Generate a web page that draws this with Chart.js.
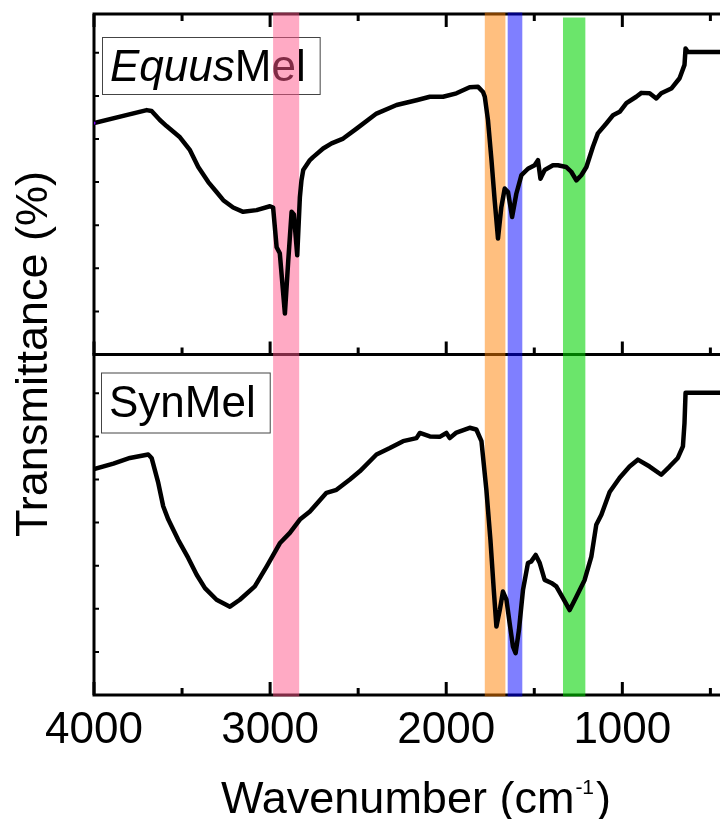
<!DOCTYPE html>
<html>
<head>
<meta charset="utf-8">
<script src="https://cdn.jsdelivr.net/npm/chart.js@4.4.1/dist/chart.umd.min.js"></script>
<style>
  html, body { margin: 0; padding: 0; background: #fff; overflow: hidden; }
  #frame { width: 720px; height: 819px; overflow: hidden; position: relative; }
  #wrap { width: 740px; height: 819px; position: absolute; left: 0; top: 0; }
</style>
</head>
<body>
<div id="frame"><div id="wrap"><canvas id="ftir"></canvas></div></div>
<script>
// FTIR spectra (wavenumber in cm-1, transmittance in arbitrary %)
const wnEquus = [4000, 3701, 3673, 3626, 3588, 3512, 3455, 3408, 3351, 3304, 3266, 3210, 3153, 3077, 3001,
  2983, 2963, 2945, 2916, 2897, 2878, 2865, 2846, 2831, 2822, 2812, 2774, 2756, 2699, 2651, 2585, 2509,
  2396, 2282, 2169, 2093, 2018, 1942, 1867, 1819, 1791, 1781, 1763, 1743, 1725, 1706, 1687, 1668, 1649,
  1626, 1602, 1573, 1536, 1498, 1479, 1465, 1441, 1394, 1366, 1318, 1290, 1261, 1233, 1204, 1167, 1139,
  1091, 1053, 1015, 977, 921, 892, 845, 807, 779, 722, 675, 647, 641, 628, 400];
const tEquus = [73.7, 76.7, 76.5, 74.4, 73.0, 70.4, 67.4, 63.5, 60.0, 57.7, 55.8, 54.1, 53.1, 53.5, 54.4,
  54.1, 44.9, 43.5, 29.5, 41.8, 53.1, 52.5, 43.0, 56.5, 60.4, 62.8, 65.1, 65.8, 67.8, 69.0, 70.1, 72.4,
  75.9, 77.9, 79.0, 79.8, 79.8, 80.6, 82.0, 82.1, 80.9, 79.8, 74.4, 65.1, 55.8, 46.9, 54.2, 58.5, 57.7,
  51.9, 57.3, 61.6, 63.1, 63.9, 65.1, 60.8, 62.8, 63.9, 63.9, 63.5, 62.4, 60.4, 61.6, 63.5, 68.2, 71.3,
  73.6, 75.5, 76.3, 78.3, 79.8, 80.7, 80.6, 79.4, 80.6, 81.7, 84.1, 87.2, 91.0, 90.2, 90.2];

const wnSyn = [4000, 3890, 3796, 3692, 3673, 3635, 3607, 3578, 3522, 3465, 3417, 3370, 3304, 3228, 3172,
  3087, 3020, 2945, 2888, 2831, 2774, 2680, 2623, 2547, 2491, 2396, 2320, 2245, 2169, 2150, 2093, 2037,
  1999, 1980, 1942, 1867, 1829, 1800, 1772, 1749, 1730, 1715, 1696, 1678, 1658, 1640, 1621, 1606, 1587,
  1564, 1536, 1517, 1492, 1469, 1441, 1403, 1375, 1337, 1299, 1261, 1214, 1176, 1148, 1119, 1072, 1015,
  959, 912, 845, 779, 732, 685, 656, 647, 641, 628, 400];
const tSyn = [72.4, 73.7, 75.0, 75.8, 75.0, 69.2, 63.8, 60.7, 56.0, 51.8, 47.9, 44.8, 42.1, 40.5, 42.1,
  45.2, 49.8, 55.2, 57.6, 60.7, 62.6, 66.9, 67.6, 70.0, 71.9, 75.8, 77.3, 78.9, 79.6, 80.8, 80.0, 79.9,
  80.8, 79.6, 80.9, 82.0, 81.6, 78.9, 67.6, 56.0, 44.4, 35.9, 39.7, 44.0, 42.1, 36.7, 31.2, 29.7, 35.1,
  44.4, 50.6, 51.0, 52.5, 50.6, 46.7, 46.0, 45.2, 42.5, 39.7, 42.8, 46.7, 52.1, 59.5, 61.8, 67.1, 70.4,
  73.0, 74.6, 73.0, 71.1, 73.0, 75.0, 77.7, 83.1, 90.1, 90.1, 90.1];

// axis ticks
const xMajorTicks = [4000, 3000, 2000, 1000];
const xMinorTicks = [3500, 2500, 1500, 500];
const yTicks = [30, 40, 50, 60, 70, 80, 90];

// highlighted absorption bands (cm-1)
const bandFrom = [2983, 1781, 1651, 1337];
const bandTo = [2835, 1664, 1568, 1210];
const bandColors = ['rgba(255,85,137,0.5)', 'rgba(255,128,0,0.5)', 'rgba(0,0,255,0.5)', 'rgba(0,210,0,0.58)'];
const bandTopInset = [0, 0, 0, 5];

const FONT = "'Liberation Sans', Arial, Helvetica, sans-serif";

function drawPanelLabel(ctx, x, y, h, parts) {
  ctx.save();
  ctx.textBaseline = 'alphabetic';
  let w = 0;
  for (const [txt, style] of parts) {
    ctx.font = style + ' 44px ' + FONT;
    w += ctx.measureText(txt).width;
  }
  const boxW = w + 22;
  ctx.fillStyle = '#fff';
  ctx.fillRect(x, y, boxW, h);
  ctx.strokeStyle = '#444';
  ctx.lineWidth = 1;
  ctx.strokeRect(x + 0.5, y + 0.5, boxW, h);
  ctx.fillStyle = '#000';
  let cx = x + 8;
  for (const [txt, style] of parts) {
    ctx.font = style + ' 44px ' + FONT;
    ctx.fillText(txt, cx, y + 44);
    cx += ctx.measureText(txt).width;
  }
  ctx.restore();
}

const panelFrame = {
  id: 'panelFrame',
  beforeDatasetsDraw(chart) {
    const { ctx, chartArea: a, scales } = chart;
    const xs = scales.x, yt = scales.yTop, yb = scales.yBot;
    ctx.save();

    drawPanelLabel(ctx, a.left + 8, yt.top + 23, 57, [['Equus', 'italic'], ['Mel', 'normal']]);
    drawPanelLabel(ctx, a.left + 7, yb.top + 18, 60, [['SynMel', 'normal']]);

    // panel borders
    ctx.strokeStyle = '#000';
    ctx.lineWidth = 3;
    ctx.lineJoin = 'miter';
    ctx.strokeRect(a.left, yt.top, a.right - a.left, yt.bottom - yt.top);
    ctx.strokeRect(a.left, yb.top, a.right - a.left, yb.bottom - yb.top);

    // inward x ticks: top panel (top + bottom edges), bottom panel (bottom edge)
    const edges = [[yt.top, 1], [yt.bottom, -1], [yb.bottom, -1]];
    ctx.lineWidth = 3;
    ctx.beginPath();
    for (const [ey, dir] of edges) {
      for (const v of xMajorTicks) {
        const px = xs.getPixelForValue(v);
        ctx.moveTo(px, ey); ctx.lineTo(px, ey + dir * 13);
      }
      for (const v of xMinorTicks) {
        const px = xs.getPixelForValue(v);
        ctx.moveTo(px, ey); ctx.lineTo(px, ey + dir * 7);
      }
    }
    ctx.stroke();

    // inward y ticks on the left edge of both panels
    ctx.lineWidth = 2;
    ctx.beginPath();
    for (const s of [yt, yb]) {
      for (const v of yTicks) {
        const py = s.getPixelForValue(v);
        ctx.moveTo(a.left, py); ctx.lineTo(a.left + 5, py);
      }
    }
    ctx.stroke();

    // translucent band overlays
    for (let i = 0; i < bandFrom.length; i++) {
      const x1 = xs.getPixelForValue(bandFrom[i]);
      const x2 = xs.getPixelForValue(bandTo[i]);
      const top = a.top - 1.5 + bandTopInset[i];
      ctx.fillStyle = bandColors[i];
      ctx.fillRect(Math.min(x1, x2), top, Math.abs(x2 - x1), a.bottom + 1.5 - top);
    }
    ctx.restore();
  },
  afterDraw(chart) {
    const { ctx, chartArea: a } = chart;
    ctx.save();
    ctx.fillStyle = '#000';
    ctx.textBaseline = 'alphabetic';
    // x-axis title with superscript
    const main = 'Wavenumber (cm', sup = '-1', close = ')';
    ctx.font = '45px ' + FONT;
    const w1 = ctx.measureText(main).width, w3 = ctx.measureText(close).width;
    ctx.font = '21px ' + FONT;
    const w2 = ctx.measureText(sup).width;
    const x0 = 416 - (w1 + w2 + w3 + 3) / 2;
    const base = 813;
    ctx.font = '45px ' + FONT;
    ctx.fillText(main, x0, base);
    ctx.font = '21px ' + FONT;
    ctx.fillText(sup, x0 + w1 + 1, base - 19);
    ctx.font = '45px ' + FONT;
    ctx.fillText(close, x0 + w1 + w2 + 3, base);
    // y-axis title
    ctx.translate(47, 354);
    ctx.rotate(-Math.PI / 2);
    ctx.textAlign = 'center';
    ctx.font = '45px ' + FONT;
    ctx.fillText('Transmittance (%)', 0, 0);
    ctx.restore();
  }
};

const yScale = (weight) => ({
  type: 'linear',
  position: 'left',
  stack: 'panels',
  stackWeight: 1,
  weight: weight,
  min: 20,
  max: 99,
  ticks: { display: false, stepSize: 10 },
  grid: { display: false, drawTicks: false },
  border: { display: false },
  afterFit(s) { s.width = 0; }
});

new Chart(document.getElementById('ftir'), {
  type: 'line',
  data: {
    datasets: [
      {
        label: 'EquusMel',
        data: wnEquus.map((w, i) => ({ x: w, y: tEquus[i] })),
        yAxisID: 'yTop',
        borderColor: '#000',
        borderWidth: 4.5,
        borderJoinStyle: 'round',
        borderCapStyle: 'round',
        pointRadius: (c) => (c.dataIndex === 0 ? 2 : 0),
        pointStyle: 'rect',
        pointBackgroundColor: '#7a00ff',
        pointBorderWidth: 0,
        tension: 0,
        clip: 0
      },
      {
        label: 'SynMel',
        data: wnSyn.map((w, i) => ({ x: w, y: tSyn[i] })),
        yAxisID: 'yBot',
        borderColor: '#000',
        borderWidth: 4.5,
        borderJoinStyle: 'round',
        borderCapStyle: 'round',
        pointRadius: 0,
        tension: 0,
        clip: 0
      }
    ]
  },
  options: {
    responsive: true,
    maintainAspectRatio: false,
    animation: false,
    events: [],
    layout: { padding: { left: 94, right: 12, top: 14, bottom: 0 } },
    plugins: { legend: { display: false }, tooltip: { enabled: false } },
    scales: {
      x: {
        type: 'linear',
        position: 'bottom',
        reverse: true,
        min: 400,
        max: 4000,
        afterBuildTicks(s) { s.ticks = xMajorTicks.map(v => ({ value: v })); },
        ticks: {
          color: '#000',
          padding: 9,
          maxRotation: 0,
          autoSkip: false,
          font: { family: FONT, size: 44 },
          callback: (v) => String(v)
        },
        grid: { display: false, drawTicks: false },
        border: { display: false },
        afterFit(s) { s.height = 124; }
      },
      yTop: yScale(2),
      yBot: yScale(1)
    }
  },
  plugins: [panelFrame]
});
</script>
</body>
</html>
